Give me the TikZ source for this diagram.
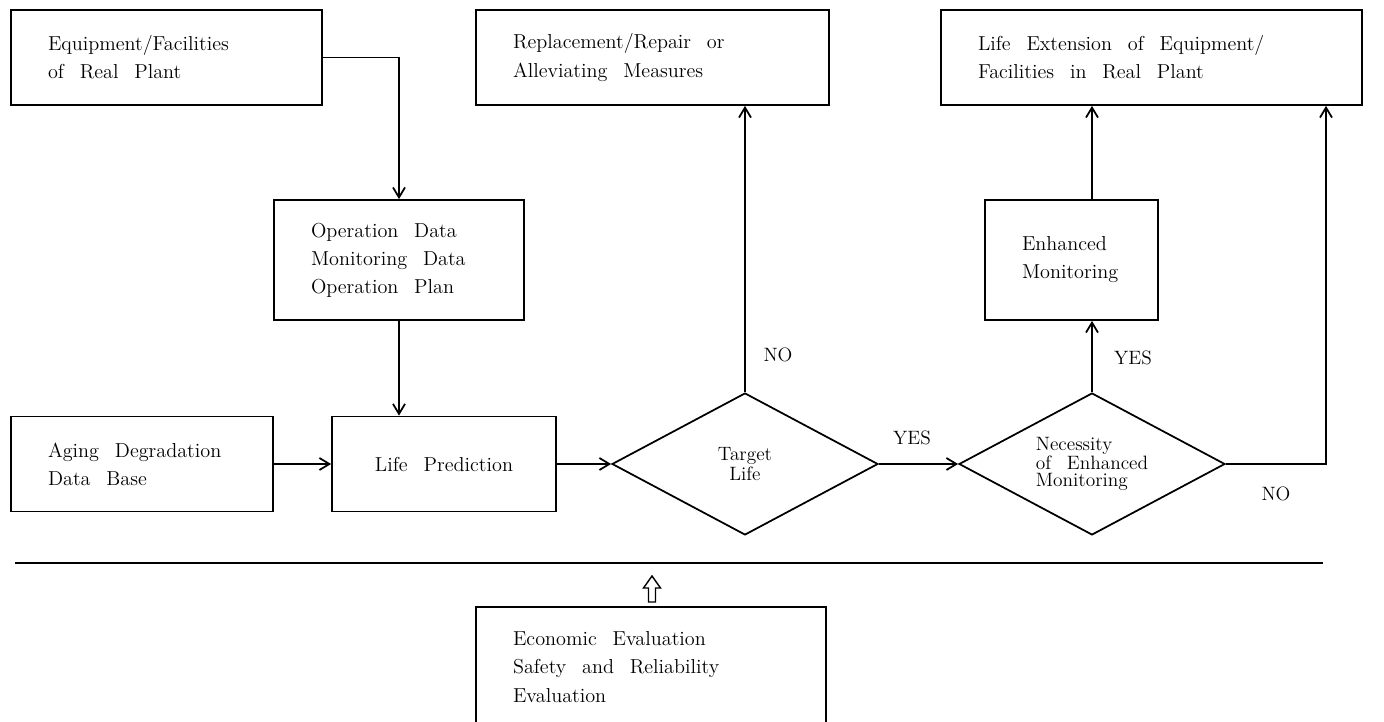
\documentclass[tikz,border=0pt]{standalone}
\usepackage{tikz}
\usetikzlibrary{arrows.meta,shapes.geometric}

\DeclareRobustCommand\widesp{\spaceskip=9pt plus 1pt\relax}

\begin{document}
\begin{tikzpicture}[x=0.02cm, y=-0.02cm,
    every node/.style={font=\fontsize{11.5}{16}\selectfont,
                       execute at begin node=\widesp},
    box/.style={draw, line width=1pt, inner xsep=0.74cm, inner ysep=0pt,
                align=left, minimum height=1.9cm},
    tall/.style={box, minimum height=2.4cm},
    decide/.style={draw, diamond, aspect=1.87, line width=1pt, inner sep=0pt,
                   minimum width=5.32cm, minimum height=2.84cm,
                   font=\fontsize{11}{9.8}\selectfont},
    lbl/.style={font=\fontsize{11}{13}\selectfont},
    arr/.style={-{Straight Barb[length=2mm, width=2.4mm]}, line width=1pt}]

  \useasboundingbox (0,0) rectangle (1384,722);

  % top row
  \node[box, text width=4.74cm] (eq) at (166.5,57.5) {Equipment/Facilities\\of Real Plant};
  \node[box, text width=5.58cm] (repl) at (652.5,57.5) {Replacement/Repair or\\Alleviating Measures};
  \node[box, text width=6.94cm] (ext) at (1151.5,57.5) {Life Extension of Equipment/\\Facilities in Real Plant};

  % middle row
  \node[tall, text width=3.52cm] (ops) at (399,260) {Operation Data\\Monitoring Data\\Operation Plan};
  \node[tall, text width=1.98cm] (enh) at (1071.5,260) {Enhanced\\Monitoring};

  % main line
  \node[box, text width=3.76cm] (aging) at (142,464) {Aging Degradation\\Data Base};
  \node[box, text width=3.0cm, align=center] (life) at (444,464) {Life Prediction};
  \node[decide, align=center] (target) at (745,464) {Target\\Life};
  \node[decide, align=left] (need) at (1092,464) {Necessity\\of Enhanced\\Monitoring};
  \coordinate (turn) at (1326,464);

  % evaluation
  \coordinate (barL) at (15,563);
  \coordinate (barR) at (1323,563);
  \node[tall, text width=5.52cm] (eval) at (651,667) {Economic Evaluation\\Safety and Reliability\\Evaluation};
  \coordinate (up) at (652,602);

  \draw[arr] (eq.east) -| (ops.north);
  \draw[arr] (ops.south) -- (ops.south |- life.north);
  \draw[arr] (aging) -- (life);
  \draw[arr] (life.east) -- (target.west);
  \draw[arr] (target.north) -- (target.north |- repl.south);
  \draw[arr] (target.east) -- (need.west);
  \draw[arr] (need.north) -- (need.north |- enh.south);
  \draw[arr] (enh.north -| need.north) -- (ext.south -| need.north);
  \draw[arr] (need.east) -- (turn) -- (turn |- ext.south);
  \draw[line width=1pt] (barL) -- (barR);
  \draw[line width=0.8pt] (up) ++(-3.5,0) -- ++(0,-14) -- ++(-5,0) -- ++(8.5,-12)
        -- ++(8.5,12) -- ++(-5,0) -- ++(0,14) -- cycle;

  \node[lbl] (no1) at (778,355) {NO};
  \node[lbl] (yes1) at (912,438) {YES};
  \node[lbl] (yes2) at (1133,358) {YES};
  \node[lbl] (no2) at (1276,494) {NO};
\end{tikzpicture}
\end{document}
